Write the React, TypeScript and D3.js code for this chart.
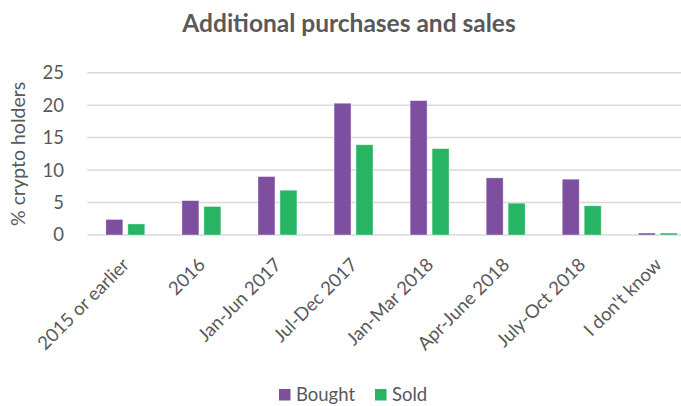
import * as d3 from "d3";
import React from "react";

// Datos
const categorias = [
  "2015 or earlier",
  "2016",
  "Jan-Jun 2017",
  "Jul-Dec 2017",
  "Jan-Mar 2018",
  "Apr-June 2018",
  "July-Oct 2018",
  "I don't know",
];
const compradas = [2.4, 5.3, 9.0, 20.3, 20.7, 8.8, 8.6, 0.3];
const vendidas = [1.7, 4.4, 6.9, 13.9, 13.3, 4.9, 4.5, 0.3];
const series = ["Bought", "Sold"];
const ticksY = [0, 5, 10, 15, 20, 25];

const colores = ["#7F4F9F", "#27B463"];
const fuente = "Lato, 'Open Sans', sans-serif";
const gris = "#595959";

export default function App() {
  const width = 681;
  const height = 406;

  // el área de la gráfica original pasa del borde derecho (imagen recortada)
  const x0 = d3.scaleBand().domain(categorias).range([87.3, 695.8]).padding(0);
  const x1 = d3
    .scaleBand()
    .domain(series)
    .range([x0.bandwidth() * 0.244, x0.bandwidth() * 0.756])
    .paddingInner(0.227);
  const y = d3.scaleLinear().domain([0, 25]).range([235, 72.7]);

  const valores = [compradas, vendidas];

  return (
    <svg
      width={width}
      height={height}
      style={{ position: "absolute", left: 0, top: 0, background: "#fff" }}
      fontFamily={fuente}
    >
      <text x={349} y={32} textAnchor="middle" fontSize={24.5} fontWeight="bold" fill={gris}>
        Additional purchases and sales
      </text>

      {/* líneas de la cuadrícula */}
      {ticksY.map((t) => (
        <g key={t}>
          <line x1={87.3} x2={width} y1={y(t)} y2={y(t)} stroke="#d9d9d9" strokeWidth={1.5} />
          <text x={64} y={y(t)} dy="0.35em" textAnchor="end" fontSize={18.5} fill={gris}>
            {t}
          </text>
        </g>
      ))}

      <text
        transform={`translate(25, ${y(12.5)}) rotate(-90)`}
        textAnchor="middle"
        fontSize={19.5}
        fill={gris}
      >
        % crypto holders
      </text>

      {/* barras */}
      {categorias.map((c, i) => (
        <g key={c} transform={`translate(${x0(c)},0)`}>
          {series.map((s, j) => (
            <rect
              key={s}
              x={x1(s)}
              y={y(valores[j][i])}
              width={x1.bandwidth()}
              height={y(0) - y(valores[j][i])}
              fill={colores[j]}
              stroke="#ffffff"
              strokeOpacity={0.5}
              strokeWidth={0.75}
            />
          ))}
        </g>
      ))}

      {/* etiquetas del eje x */}
      {categorias.map((c) => {
        const cx = (x0(c) as number) + x0.bandwidth() / 2;
        return (
          <text
            key={c}
            transform={`translate(${cx + 5}, 266) rotate(-45)`}
            textAnchor="end"
            fontSize={18.5}
            fill={gris}
          >
            {c}
          </text>
        );
      })}

      {/* leyenda */}
      {series.map((s, j) => {
        const lx = j === 0 ? 279 : 375;
        return (
          <g key={s}>
            <rect x={lx} y={389} width={11.5} height={11.5} fill={colores[j]} />
            <text x={lx + 17} y={395} dy="0.35em" fontSize={18.5} fill={gris}>
              {s}
            </text>
          </g>
        );
      })}
    </svg>
  );
}
